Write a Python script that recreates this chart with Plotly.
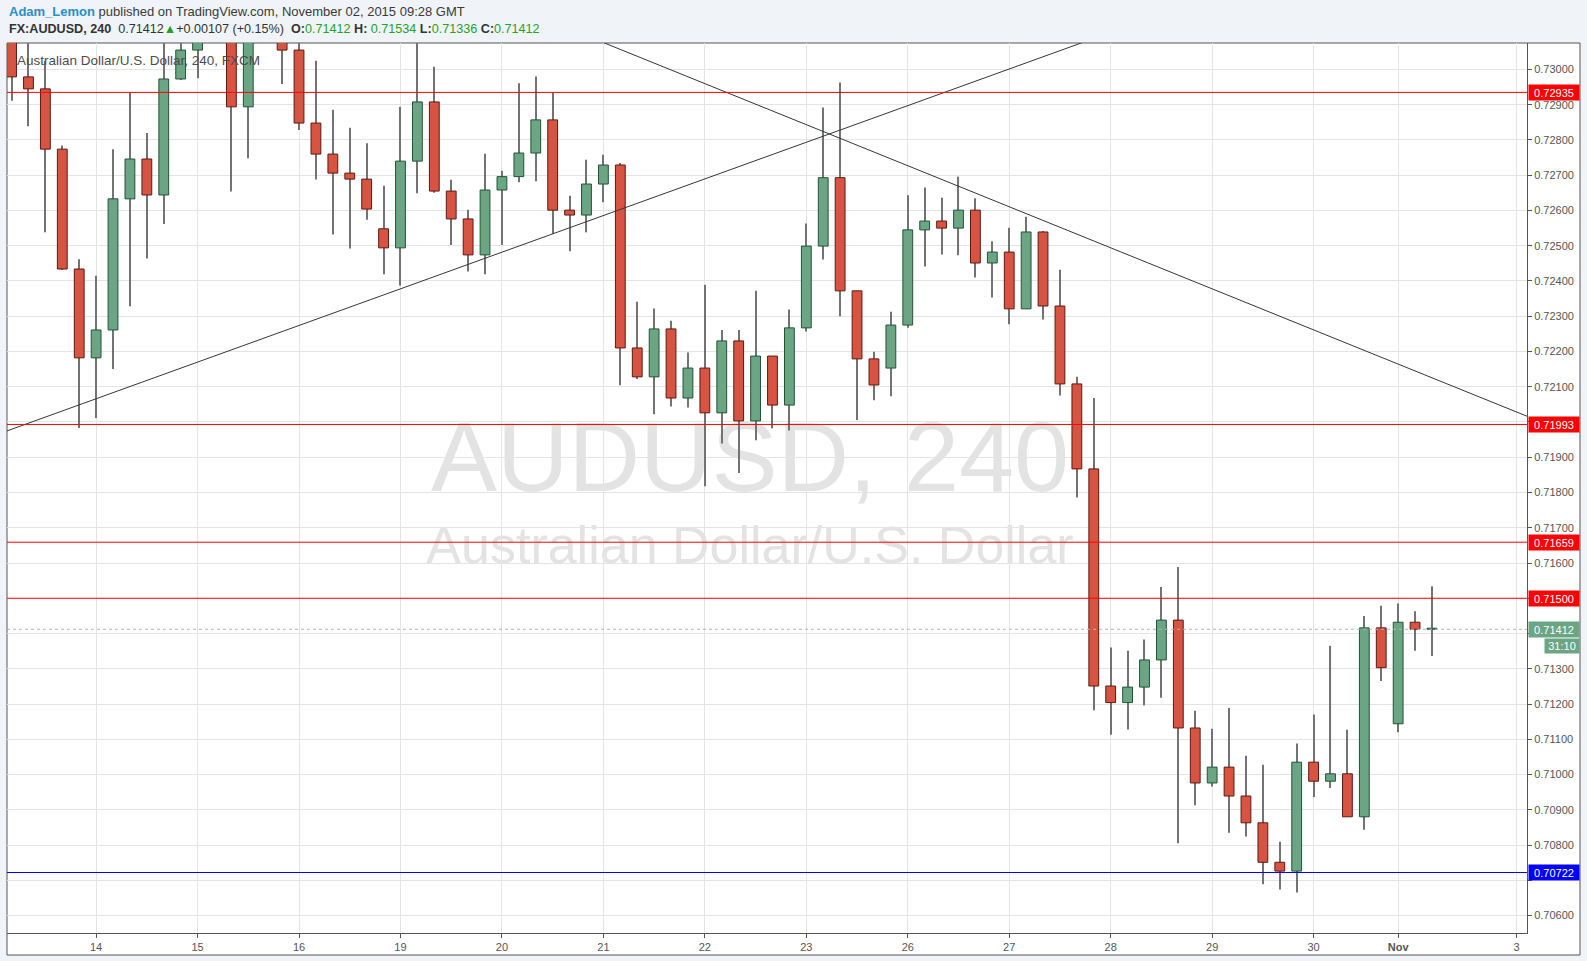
import plotly.graph_objects as go

# ---------------- data (4h candles, AUDUSD, index 0 = first visible bar) ----------------
opens = [0.73100, 0.72979, 0.72945, 0.72774, 0.72434, 0.72182, 0.72261, 0.72633, 0.72746, 0.72644,
         0.72973, 0.73055, 0.73120, 0.73180, 0.72894, 0.73100, 0.73140, 0.73055, 0.72848, 0.72760,
         0.72706, 0.72689, 0.72548, 0.72494, 0.72740, 0.72908, 0.72655, 0.72576, 0.72474, 0.72658,
         0.72696, 0.72763, 0.72857, 0.72601, 0.72587, 0.72675, 0.72729, 0.72210, 0.72128, 0.72264,
         0.72068, 0.72153, 0.72026, 0.72230, 0.72003, 0.72187, 0.72048, 0.72267, 0.72499, 0.72693,
         0.72372, 0.72179, 0.72153, 0.72275, 0.72545, 0.72570, 0.72550, 0.72601, 0.72451, 0.72482,
         0.72321, 0.72539, 0.72329, 0.72108, 0.71867, 0.71251, 0.71204, 0.71248, 0.71325, 0.71438,
         0.71132, 0.70976, 0.71021, 0.70939, 0.70863, 0.70751, 0.70726, 0.71035, 0.70981, 0.71002,
         0.70880, 0.71416, 0.71144, 0.71432, 0.71412]
highs = [0.73120, 0.73090, 0.73025, 0.72784, 0.72462, 0.72415, 0.72774, 0.72935, 0.72820, 0.73100,
         0.73110, 0.73150, 0.73220, 0.73220, 0.73120, 0.73180, 0.73160, 0.73090, 0.73025, 0.72886,
         0.72835, 0.72791, 0.72670, 0.72894, 0.73090, 0.73008, 0.72687, 0.72602, 0.72761, 0.72713,
         0.72961, 0.72980, 0.72935, 0.72642, 0.72744, 0.72758, 0.72735, 0.72341, 0.72322, 0.72287,
         0.72197, 0.72389, 0.72261, 0.72261, 0.72372, 0.72187, 0.72319, 0.72563, 0.72892, 0.72963,
         0.72372, 0.72199, 0.72313, 0.72643, 0.72665, 0.72636, 0.72696, 0.72635, 0.72513, 0.72551,
         0.72582, 0.72542, 0.72432, 0.72128, 0.72068, 0.71360, 0.71351, 0.71383, 0.71532, 0.71589,
         0.71181, 0.71130, 0.71189, 0.71053, 0.71028, 0.70809, 0.71088, 0.71170, 0.71365, 0.71127,
         0.71450, 0.71479, 0.71485, 0.71463, 0.71534]
lows = [0.72911, 0.72839, 0.72538, 0.72431, 0.71983, 0.72011, 0.72150, 0.72328, 0.72464, 0.72562,
        0.72970, 0.72975, 0.73090, 0.72654, 0.72748, 0.73080, 0.72959, 0.72828, 0.72688, 0.72532,
        0.72492, 0.72574, 0.72419, 0.72387, 0.72649, 0.72650, 0.72502, 0.72427, 0.72419, 0.72502,
        0.72680, 0.72683, 0.72533, 0.72484, 0.72538, 0.72623, 0.72104, 0.72122, 0.72022, 0.72044,
        0.72041, 0.71818, 0.71939, 0.71855, 0.71948, 0.71982, 0.71976, 0.72257, 0.72461, 0.72300,
        0.72006, 0.72062, 0.72073, 0.72267, 0.72441, 0.72475, 0.72473, 0.72410, 0.72353, 0.72277,
        0.72321, 0.72291, 0.72075, 0.71786, 0.71182, 0.71113, 0.71128, 0.71196, 0.71218, 0.70805,
        0.70913, 0.70966, 0.70835, 0.70824, 0.70689, 0.70674, 0.70665, 0.70936, 0.70962, 0.70880,
        0.70843, 0.71265, 0.71120, 0.71351, 0.71336]
closes = [0.72979, 0.72945, 0.72774, 0.72434, 0.72182, 0.72261, 0.72633, 0.72746, 0.72644, 0.72973,
          0.73055, 0.73120, 0.73180, 0.72894, 0.73100, 0.73140, 0.73055, 0.72848, 0.72760, 0.72706,
          0.72689, 0.72604, 0.72494, 0.72740, 0.72908, 0.72655, 0.72576, 0.72474, 0.72658, 0.72696,
          0.72763, 0.72857, 0.72601, 0.72587, 0.72675, 0.72729, 0.72210, 0.72128, 0.72264, 0.72068,
          0.72153, 0.72026, 0.72230, 0.72003, 0.72187, 0.72048, 0.72267, 0.72499, 0.72693, 0.72372,
          0.72179, 0.72105, 0.72275, 0.72545, 0.72570, 0.72550, 0.72601, 0.72451, 0.72482, 0.72321,
          0.72539, 0.72329, 0.72108, 0.71867, 0.71251, 0.71204, 0.71248, 0.71325, 0.71438, 0.71132,
          0.70976, 0.71021, 0.70939, 0.70863, 0.70751, 0.70726, 0.71035, 0.70981, 0.71002, 0.70880,
          0.71416, 0.71303, 0.71432, 0.71412, 0.71412]

day_tick_index = [5, 11, 17, 23, 29, 35, 41, 47, 53, 59, 65, 71, 77, 82, 89]
day_tick_text = ["14", "15", "16", "19", "20", "21", "22", "23", "26", "27", "28", "29", "30", "<b>Nov</b>", "3"]

price_ticks = [0.706, 0.707, 0.708, 0.709, 0.710, 0.711, 0.712, 0.713, 0.714, 0.715, 0.716, 0.717,
               0.718, 0.719, 0.720, 0.721, 0.722, 0.723, 0.724, 0.725, 0.726, 0.727, 0.728, 0.729, 0.730]
hidden_price_labels = [0.707, 0.714]   # covered by the marker boxes on the price scale

resistance_levels = [0.72935, 0.71993, 0.71659, 0.71500]
support_levels = [0.70722]
last_price = 0.71412
countdown = "31:10"

rising_trend_x = [-1, 64]
rising_trend_y = [0.71962, 0.73088]
falling_trend_x = [34.5, 90]
falling_trend_y = [0.73086, 0.72009]

# ---------------- styling ----------------
UP_FILL, UP_LINE = "#6ba583", "#225437"
DN_FILL, DN_LINE = "#d75442", "#5b1a13"
WICK = "#737375"
GRID = "#e4e4e4"
AXIS = "#555555"
FONT = "Liberation Sans, Arial, sans-serif"

idx = list(range(len(opens)))
body_base = [min(o, c) for o, c in zip(opens, closes)]
body_h = [max(abs(c - o), 0.00003) for o, c in zip(opens, closes)]
is_up = [c >= o for o, c in zip(opens, closes)]
fills = [UP_FILL if u else DN_FILL for u in is_up]
borders = [UP_LINE if u else DN_LINE for u in is_up]

fig = go.Figure()
fig.add_trace(go.Bar(x=idx, y=[h - l for h, l in zip(highs, lows)], base=lows, width=0.065,
                     marker=dict(color=WICK, line=dict(width=0)), hoverinfo="skip", showlegend=False))
fig.add_trace(go.Bar(x=idx, y=body_h, base=body_base, width=0.58,
                     marker=dict(color=fills, line=dict(color=borders, width=1)),
                     hoverinfo="skip", showlegend=False))
fig.add_trace(go.Scatter(x=rising_trend_x, y=rising_trend_y, mode="lines",
                         line=dict(color="#333833", width=1), hoverinfo="skip", showlegend=False))
fig.add_trace(go.Scatter(x=falling_trend_x, y=falling_trend_y, mode="lines",
                         line=dict(color="#333833", width=1), hoverinfo="skip", showlegend=False))

L, R, T, B = 7, 1527, 43, 933
PW, PH = R - L, B - T


def px(x):
    return (x - L) / PW


def py(y):
    return (B - y) / PH


shapes = []
# outer frame
shapes.append(dict(type="rect", xref="paper", yref="paper", x0=0, x1=px(1580), y0=py(955), y1=1,
                   line=dict(color=AXIS, width=1), fillcolor="white", layer="below"))
# watermark
shapes.append(dict(type="rect", xref="paper", yref="paper", x0=px(300), x1=px(1200), y0=py(480), y1=py(414),
                   line=dict(width=0), fillcolor="rgba(0,0,0,0)", layer="below",
                   label=dict(text="AUDUSD, 240", textposition="middle center",
                              font=dict(family=FONT, size=99, color="#e3e3e3"))))
shapes.append(dict(type="rect", xref="paper", yref="paper", x0=px(300), x1=px(1200), y0=py(557), y1=py(522),
                   line=dict(width=0), fillcolor="rgba(0,0,0,0)", layer="below",
                   label=dict(text="Australian Dollar/U.S. Dollar", textposition="middle center",
                              font=dict(family=FONT, size=52, color="#e3e3e3"))))
# last price dotted line
shapes.append(dict(type="line", xref="paper", yref="y", x0=0, x1=1, y0=last_price, y1=last_price,
                   line=dict(color="#b4b4b4", width=1, dash="dot"), layer="above"))
for lv in resistance_levels:
    shapes.append(dict(type="line", xref="paper", yref="y", x0=0, x1=1, y0=lv, y1=lv,
                       line=dict(color="#ff0000", width=1), layer="above"))
for lv in support_levels:
    shapes.append(dict(type="line", xref="paper", yref="y", x0=0, x1=1, y0=lv, y1=lv,
                       line=dict(color="#0000ff", width=1), layer="above"))

annotations = []


def price_box(value, color):
    return dict(xref="paper", yref="y", x=1, y=value, xanchor="left", yanchor="middle", xshift=1,
                text=f"{value:.5f}", showarrow=False, bgcolor=color, width=48, height=13, borderpad=1,
                align="center", font=dict(family=FONT, size=11, color="white"))


for lv in resistance_levels:
    annotations.append(price_box(lv, "#ff0000"))
for lv in support_levels:
    annotations.append(price_box(lv, "#0000ff"))
annotations.append(price_box(last_price, "#6ba583"))
annotations.append(dict(xref="paper", yref="y", x=1, y=last_price, xanchor="left", yanchor="middle",
                        xshift=17, yshift=-17, text=countdown, showarrow=False, bgcolor="#6ba583",
                        width=32, height=12, borderpad=1, align="center",
                        font=dict(family=FONT, size=11, color="white")))

GREEN = "#27a127"
header1 = ("<span style='color:#2a8fc7'><b>Adam_Lemon</b></span> published on TradingView.com, "
           "November 02, 2015 09:28 GMT")
header2 = (f"<b>FX:AUDUSD, 240</b>  {last_price:.5f}<span style='color:{GREEN}'>▲</span>+0.00107 (+0.15%)  "
           f"<b>O:</b><span style='color:{GREEN}'>{opens[-1]:.5f}</span> "
           f"<b>H:</b> <span style='color:{GREEN}'>{highs[-1]:.5f}</span> "
           f"<b>L:</b><span style='color:{GREEN}'>{lows[-1]:.5f}</span> "
           f"<b>C:</b><span style='color:{GREEN}'>{closes[-1]:.5f}</span>")
annotations.append(dict(xref="paper", yref="paper", x=0, y=py(11), xanchor="left", yanchor="middle",
                        text=header1, showarrow=False, font=dict(family=FONT, size=13, color="#3a3a3a")))
annotations.append(dict(xref="paper", yref="paper", x=0, y=py(29.5), xanchor="left", yanchor="middle",
                        text=header2, showarrow=False, font=dict(family=FONT, size=12.6, color="#333333")))
annotations.append(dict(xref="paper", yref="paper", x=px(15), y=py(61), xanchor="left", yanchor="middle",
                        text="Australian Dollar/U.S. Dollar, 240, FXCM", showarrow=False,
                        font=dict(family=FONT, size=13.5, color="#4d4d4d")))

fig.update_layout(
    width=1587, height=961,
    margin=dict(l=L, r=1587 - R, t=T, b=961 - B, pad=0),
    paper_bgcolor="#f0f3f7", plot_bgcolor="white",
    barmode="overlay", hovermode=False, showlegend=False,
    shapes=shapes, annotations=annotations,
    xaxis=dict(range=[-0.27, 89.62], tickmode="array", tickvals=day_tick_index, ticktext=day_tick_text,
               showgrid=True, gridcolor=GRID, gridwidth=1, zeroline=False,
               showline=True, linecolor=AXIS, linewidth=1, ticks="outside", ticklen=4, tickcolor=AXIS,
               tickfont=dict(family=FONT, size=11, color="#555555")),
    yaxis=dict(range=[0.705504, 0.730751], side="right", tickmode="array", tickvals=price_ticks,
               ticktext=["" if v in hidden_price_labels else f"{v:.5f}" for v in price_ticks],
               showgrid=True, gridcolor=GRID, gridwidth=1, zeroline=False,
               showline=True, linecolor=AXIS, linewidth=1, ticks="outside", ticklen=4, tickcolor=AXIS,
               tickfont=dict(family=FONT, size=11, color="#555555")),
)

fig.write_html("out.html", config={"displayModeBar": False},
               post_script="document.body.style.margin='0px';document.body.style.overflow='hidden';")
